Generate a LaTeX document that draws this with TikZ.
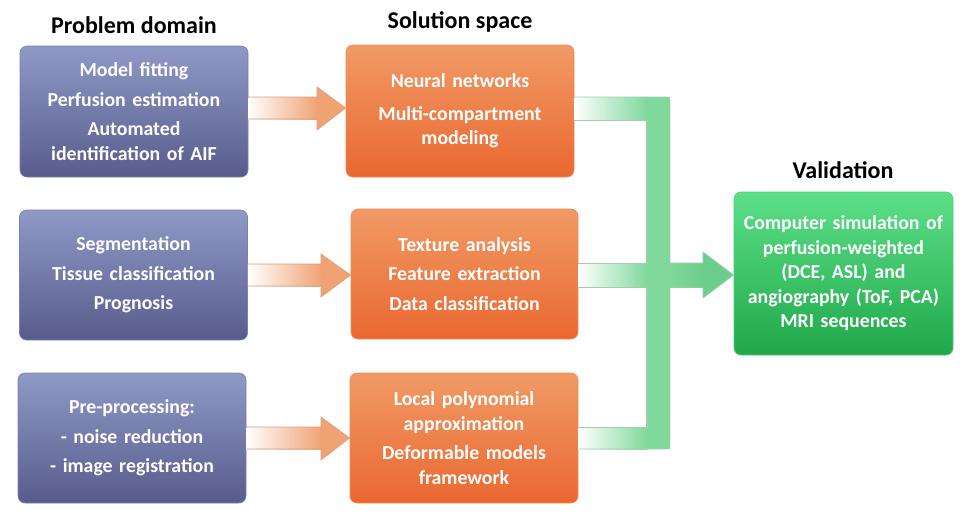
\documentclass[tikz,border=0pt]{standalone}
\usepackage{fontspec}
\setmainfont{Carlito}
\definecolor{bluTop}{RGB}{143,153,198}
\definecolor{bluBot}{RGB}{88,92,140}
\definecolor{orTop}{RGB}{241,154,102}
\definecolor{orBot}{RGB}{234,104,48}
\definecolor{grTop}{RGB}{92,223,136}
\definecolor{grBot}{RGB}{32,168,74}
\definecolor{grConn}{RGB}{128,216,156}
\definecolor{grTip}{RGB}{108,206,140}
\definecolor{grLine}{RGB}{160,205,172}
\definecolor{orArr}{RGB}{240,162,114}
\definecolor{orLine}{RGB}{214,160,128}
\tikzset{
  box/.style={rounded corners=7pt, minimum width=228pt, minimum height=131pt,
    inner sep=0pt, text width=224pt, align=center, text=white,
    font=\bfseries\fontsize{19.8}{24.5}\selectfont},
  bluebox/.style={box, top color=bluTop, bottom color=bluBot, draw=bluTop!60!bluBot, line width=0.6pt},
  orbox/.style={box, top color=orTop, bottom color=orBot, draw=orTop!70!orBot, line width=0.6pt},
  grbox/.style={box, top color=grTop, bottom color=grBot, draw=grTop!70!grBot, line width=0.6pt,
    minimum width=219pt, minimum height=163pt, text width=217pt},
  title/.style={font=\bfseries\fontsize{24}{28}\selectfont, text=black, inner sep=0pt},
  orline/.style={draw=orLine, line width=0.6pt, line join=miter},
  grline/.style={draw=grLine, line width=0.6pt},
}
\begin{document}
\begin{tikzpicture}[x=1pt,y=-1pt]
\useasboundingbox (0,0) rectangle (970,520);
\path
  node[title] (t1) at (134,25) {Problem domain}
  node[title] (t2) at (460,22) {Solution space}
  node[title] (t3) at (843,170) {Validation};
\node[bluebox] (b1) at (134,111.5) {Model fitting\\[5pt]Perfusion estimation\\[5pt]Automated\\identification of AIF};
\node[bluebox, minimum height=130pt] (b2) at (133.5,275) {Segmentation\\[5pt]Tissue classification\\[5pt]Prognosis};
\node[bluebox, minimum height=130pt] (b3) at (132,438) {Pre-processing:\\[5pt]- noise reduction\\[5pt]- image registration};
\node[orbox, minimum height=132pt] (o1) at (460,111) {Neural networks\\[8pt]Multi-compartment\\modeling};
\node[orbox, minimum width=227pt, minimum height=130pt] (o2) at (464.5,274) {Texture analysis\\[5pt]Feature extraction\\[5pt]Data classification};
\node[orbox, minimum height=130pt] (o3) at (464,438) {Local polynomial\\approximation\\[5pt]Deformable models\\framework};
\node[grbox] (g) at (843.5,273.5) {Computer simulation of\\perfusion-weighted\\(DCE, ASL) and\\angiography (ToF, PCA)\\MRI sequences};
% arrow 1
\fill[left color=white, right color=orArr] (b1.east |- 0,97) rectangle (318,119);
\fill[orArr] (317,87) -- (o1.west |- 0,108) -- (317,130) -- cycle;
\draw[orline] (b1.east |- 0,97) -- (317,97) -- (317,87) -- (o1.west |- 0,108) -- (317,130) -- (317,119) -- (b1.east |- 0,119);
% arrow 2
\fill[left color=white, right color=orArr] (b2.east |- 0,264) rectangle (322,286);
\fill[orArr] (321,254) -- (o2.west |- 0,275) -- (321,297) -- cycle;
\draw[orline] (b2.east |- 0,264) -- (321,264) -- (321,254) -- (o2.west |- 0,275) -- (321,297) -- (321,286) -- (b2.east |- 0,286);
% arrow 3
\fill[left color=white, right color=orArr] (b3.east |- 0,427) rectangle (322,449);
\fill[orArr] (321,417) -- (o3.west |- 0,438) -- (321,460) -- cycle;
\draw[orline] (b3.east |- 0,427) -- (321,427) -- (321,417) -- (o3.west |- 0,438) -- (321,460) -- (321,449) -- (b3.east |- 0,449);
% green connector
\fill[grConn] (646,97) -- (670,97) -- (670,449) -- (646,449) -- cycle;
\fill[left color=grConn, right color=grTip] (669,263) rectangle (704,287);
\fill[grTip] (703,252) -- (g.west |- 0,275) -- (703,298) -- cycle;
\fill[left color=white, right color=grConn] (o1.east |- 0,97) rectangle (647,120);
\fill[left color=white, right color=grConn] (o2.east |- 0,263) rectangle (647,287);
\fill[left color=white, right color=grConn] (o3.east |- 0,427) rectangle (647,449);
\draw[grline] (o1.east |- 0,97) -- (667,97) to[out=0,in=90] (670,100) -- (670,263) -- (703,263) -- (703,252)
  -- (g.west |- 0,275) -- (703,298) -- (703,287) -- (670,287) -- (670,446) to[out=-90,in=0] (667,449)
  -- (o3.east |- 0,449);
\draw[grline] (o3.east |- 0,427) -- (647,427) -- (647,287) -- (o2.east |- 0,287);
\draw[grline] (o2.east |- 0,263) -- (647,263) -- (647,120) -- (o1.east |- 0,120);
\end{tikzpicture}
\end{document}
